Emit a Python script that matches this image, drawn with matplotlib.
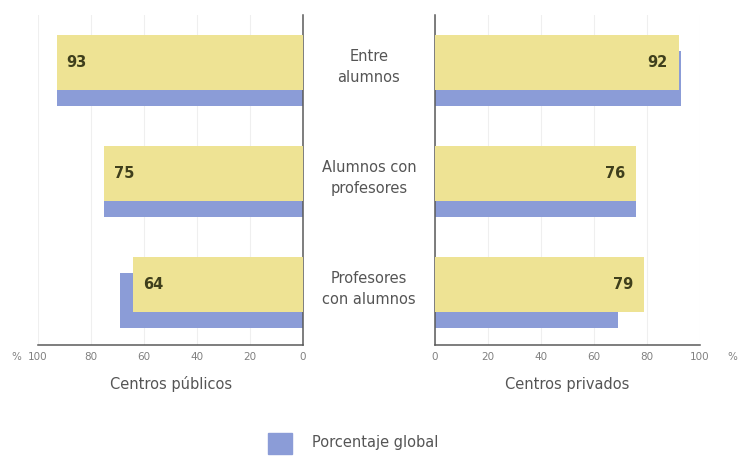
import numpy as np
import matplotlib
matplotlib.use("Agg")
import matplotlib.pyplot as plt
from matplotlib.transforms import blended_transform_factory
from matplotlib.patches import Rectangle

# Data
categories = ["Entre\nalumnos", "Alumnos con\nprofesores", "Profesores\ncon alumnos"]
publicos = [93, 75, 64]
privados = [92, 76, 79]
global_publicos = [93, 75, 69]
global_privados = [93, 76, 69]
ticks = [0, 20, 40, 60, 80, 100]

YELLOW = "#eee394"
BLUE = "#8b9cd7"
NUM_COLOR = "#3f3f1c"
TEXT_COLOR = "#555555"
SPINE_COLOR = "#5a5a5a"

fig = plt.figure(figsize=(7.38, 4.57), dpi=100)
W, H = 738, 457

def px_axes(x0, x1, y0, y1):
    return fig.add_axes([x0 / W, 1 - y1 / H, (x1 - x0) / W, (y1 - y0) / H])

axL = px_axes(38, 303, 15, 345)
axR = px_axes(435, 700, 15, 345)

y = np.arange(len(categories))
bar_h = 0.495
offset = 0.145

for ax, vals, gvals, side in [(axL, publicos, global_publicos, "left"),
                              (axR, privados, global_privados, "right")]:
    ax.barh(y + offset, gvals, height=bar_h, color=BLUE, zorder=2)
    ax.barh(y, vals, height=bar_h, color=YELLOW, zorder=3)
    for yi, v in zip(y, vals):
        if side == "left":
            ax.annotate(str(v), (v, yi), xytext=(7, 0), textcoords="offset points",
                        ha="left", va="center", fontsize=10.5, fontweight="bold",
                        color=NUM_COLOR, zorder=4)
        else:
            ax.annotate(str(v), (v, yi), xytext=(-8, 0), textcoords="offset points",
                        ha="right", va="center", fontsize=10.5, fontweight="bold",
                        color=NUM_COLOR, zorder=4)
    ax.set_ylim(2.545, -0.428)
    ax.set_yticks([])
    ax.set_xticks(ticks)
    ax.set_xticklabels([str(t) for t in ticks])
    ax.tick_params(axis="x", length=0, pad=5, labelsize=7.5, labelcolor="#808080")
    ax.grid(axis="x", color="#efefef", linewidth=0.8, zorder=0)
    ax.set_axisbelow(True)
    for s in ax.spines.values():
        s.set_visible(False)
    ax.spines["bottom"].set_visible(True)
    ax.spines["bottom"].set_color(SPINE_COLOR)
    ax.spines["bottom"].set_linewidth(1.1)

axL.set_xlim(100, 0)
axL.spines["right"].set_visible(True)
axL.spines["right"].set_color(SPINE_COLOR)
axL.spines["right"].set_linewidth(1.1)

axR.set_xlim(0, 100)
axR.spines["left"].set_visible(True)
axR.spines["left"].set_color(SPINE_COLOR)
axR.spines["left"].set_linewidth(1.1)

# percent signs next to the 100 ticks
fig.text(16 / W, 1 - 357 / H, "%", fontsize=7.5, color="#808080", ha="center", va="center")
fig.text(732 / W, 1 - 357 / H, "%", fontsize=7.5, color="#808080", ha="center", va="center")

# category labels in the middle
trans = blended_transform_factory(fig.transFigure, axL.transData)
for yi, cat in zip(y, categories):
    fig.text(369 / W, yi + 0.04, cat, transform=trans, ha="center", va="center",
             fontsize=10.5, color=TEXT_COLOR, linespacing=1.45)

fig.text(171 / W, 1 - 384 / H, "Centros públicos", ha="center", va="center",
         fontsize=10.5, color=TEXT_COLOR)
fig.text(567 / W, 1 - 384 / H, "Centros privados", ha="center", va="center",
         fontsize=10.5, color=TEXT_COLOR)

# legend
fig.patches.append(Rectangle((268 / W, 1 - 454 / H), 24 / W, 21 / H,
                             transform=fig.transFigure, color=BLUE))
fig.text(312 / W, 1 - 443 / H, "Porcentaje global", ha="left", va="center",
         fontsize=10.5, color=TEXT_COLOR)

fig.savefig("out.png", dpi=100, facecolor="white")
